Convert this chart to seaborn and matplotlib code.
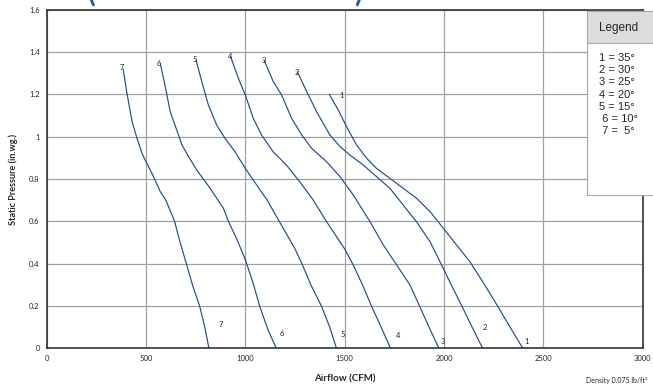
import numpy as np
import pandas as pd
import seaborn as sns
import matplotlib.pyplot as plt
from matplotlib.patches import Rectangle

# fan curves (airflow CFM, static pressure in.wg.)
cfm_1 = [1423, 1468, 1510, 1560, 1611, 1661, 1728, 1795, 1862, 1930, 1997, 2064, 2131, 2205, 2270, 2333, 2397]
sp_1 = [1.20, 1.126, 1.047, 0.961, 0.898, 0.85, 0.803, 0.756, 0.709, 0.646, 0.567, 0.488, 0.409, 0.30, 0.2, 0.1, 0.0]

cfm_2 = [1262, 1309, 1359, 1426, 1477, 1527, 1594, 1661, 1728, 1795, 1862, 1930, 1985, 2037, 2090, 2142, 2195]
sp_2 = [1.307, 1.213, 1.118, 1.008, 0.953, 0.913, 0.866, 0.811, 0.756, 0.677, 0.598, 0.504, 0.40, 0.30, 0.2, 0.1, 0.0]

cfm_3 = [1094, 1141, 1183, 1233, 1284, 1334, 1409, 1477, 1544, 1628, 1695, 1762, 1829, 1877, 1925, 1975]
sp_3 = [1.362, 1.26, 1.197, 1.087, 1.008, 0.945, 0.882, 0.811, 0.724, 0.598, 0.488, 0.394, 0.299, 0.2, 0.1, 0.0]

cfm_4 = [926, 965, 1000, 1040, 1082, 1140, 1207, 1274, 1341, 1408, 1500, 1540, 1590, 1635, 1684, 1731]
sp_4 = [1.378, 1.276, 1.197, 1.087, 1.008, 0.929, 0.866, 0.787, 0.702, 0.6, 0.47, 0.4, 0.3, 0.2, 0.1, 0.0]

cfm_5 = [752, 781, 814, 856, 898, 948, 1000, 1057, 1110, 1191, 1249, 1285, 1330, 1383, 1425, 1459]
sp_5 = [1.362, 1.26, 1.15, 1.055, 0.992, 0.929, 0.85, 0.772, 0.70, 0.567, 0.472, 0.40, 0.30, 0.2, 0.1, 0.0]

cfm_6 = [572, 597, 622, 655, 681, 714, 756, 823, 890, 915, 955, 982, 1000, 1039, 1072, 1114, 1156]
sp_6 = [1.346, 1.236, 1.118, 1.031, 0.961, 0.906, 0.842, 0.756, 0.661, 0.6, 0.52, 0.46, 0.419, 0.309, 0.2, 0.088, 0.0]

cfm_7 = [385, 405, 430, 455, 480, 500, 530, 572, 600, 644, 664, 703, 736, 770, 795, 817]
sp_7 = [1.32, 1.2, 1.071, 0.992, 0.921, 0.882, 0.827, 0.74, 0.70, 0.6, 0.527, 0.4, 0.293, 0.2, 0.104, 0.0]

curve_names = ["1", "2", "3", "4", "5", "6", "7"]
legend_lines = ["1 = 35°", "2 = 30°", "3 = 25°", "4 = 20°", "5 = 15°", " 6 = 10°", " 7 =  5°"]

# label positions near the top and bottom of each curve
top_lbl_x = [1485, 1261, 1095, 922, 748, 565, 379]
top_lbl_y = [1.196, 1.304, 1.359, 1.378, 1.366, 1.347, 1.328]
bot_lbl_x = [2417, 2207, 1997, 1770, 1493, 1185, 879]
bot_lbl_y = [0.033, 0.10, 0.033, 0.06, 0.065, 0.068, 0.112]

frames = []
for name, x, y in zip(curve_names,
                      [cfm_1, cfm_2, cfm_3, cfm_4, cfm_5, cfm_6, cfm_7],
                      [sp_1, sp_2, sp_3, sp_4, sp_5, sp_6, sp_7]):
    frames.append(pd.DataFrame({"cfm": x, "sp": y, "curve": name}))
df = pd.concat(frames, ignore_index=True)

sns.set_style("white")
plt.rcParams['font.family'] = ['Lato', 'DejaVu Sans']

fig = plt.figure(figsize=(6.53, 3.89), dpi=100)
ax = fig.add_axes([0.0715, 0.1046, 0.9125, 0.8704])

sns.lineplot(data=df, x="cfm", y="sp", units="curve", estimator=None, sort=False,
             color="#1f4e8c", linewidth=0.85, ax=ax)

for i, name in enumerate(curve_names):
    ax.text(top_lbl_x[i], top_lbl_y[i], name, fontsize=5.5, ha="center", va="center")
    ax.text(bot_lbl_x[i], bot_lbl_y[i], name, fontsize=5.5, ha="center", va="center")

ax.set_xlim(0, 3000)
ax.set_ylim(0, 1.6)
ax.set_xticks(np.arange(0, 3001, 500))
ax.set_yticks(np.arange(0, 1.61, 0.2))
ax.set_yticklabels(["0", "0.2", "0.4", "0.6", "0.8", "1", "1.2", "1.4", "1.6"])
ax.tick_params(labelsize=5.5, length=2, color="#333333", pad=3)
ax.grid(True, color="#a0a0a0", linewidth=0.9)
for s in ax.spines.values():
    s.set_color("#333333")
    s.set_linewidth(1.2)

ax.set_xlabel("Airflow (CFM)", fontsize=7, fontweight="bold", labelpad=9)
ax.set_ylabel("Static Pressure (in.wg.)", fontsize=6.5, fontweight="bold", labelpad=8)

fig.text(0.992, 0.012, "Density 0.075 lb/ft³", fontsize=5, ha="right", va="bottom")

# cropped blue title brackets at the very top
fig.text(0.141, 0.982, "(", fontsize=20, color="#1a5ea8", fontweight="bold",
         ha="center", va="bottom")
fig.text(0.548, 0.982, ")", fontsize=20, color="#1a5ea8", fontweight="bold",
         ha="center", va="bottom")

# legend box
bx, by, bw, bh = 0.899, 0.499, 0.2, 0.473
fig.patches.append(Rectangle((bx, by), bw, bh, transform=fig.transFigure,
                             facecolor="white", edgecolor="#a8a8a8", linewidth=0.8, zorder=5))
fig.patches.append(Rectangle((bx, 0.889), bw, bh - (0.889 - by), transform=fig.transFigure,
                             facecolor="#dcdcdc", edgecolor="#a8a8a8", linewidth=0.8, zorder=6))
fig.text(0.918, 0.928, "Legend", fontsize=8.5, family="Liberation Sans",
         ha="left", va="center", zorder=7)
for i, line in enumerate(legend_lines):
    fig.text(0.917, 0.851 - i * 0.0315, line, fontsize=8, family="Liberation Sans",
             ha="left", va="center", zorder=7)

plt.savefig("out.png", dpi=100)
